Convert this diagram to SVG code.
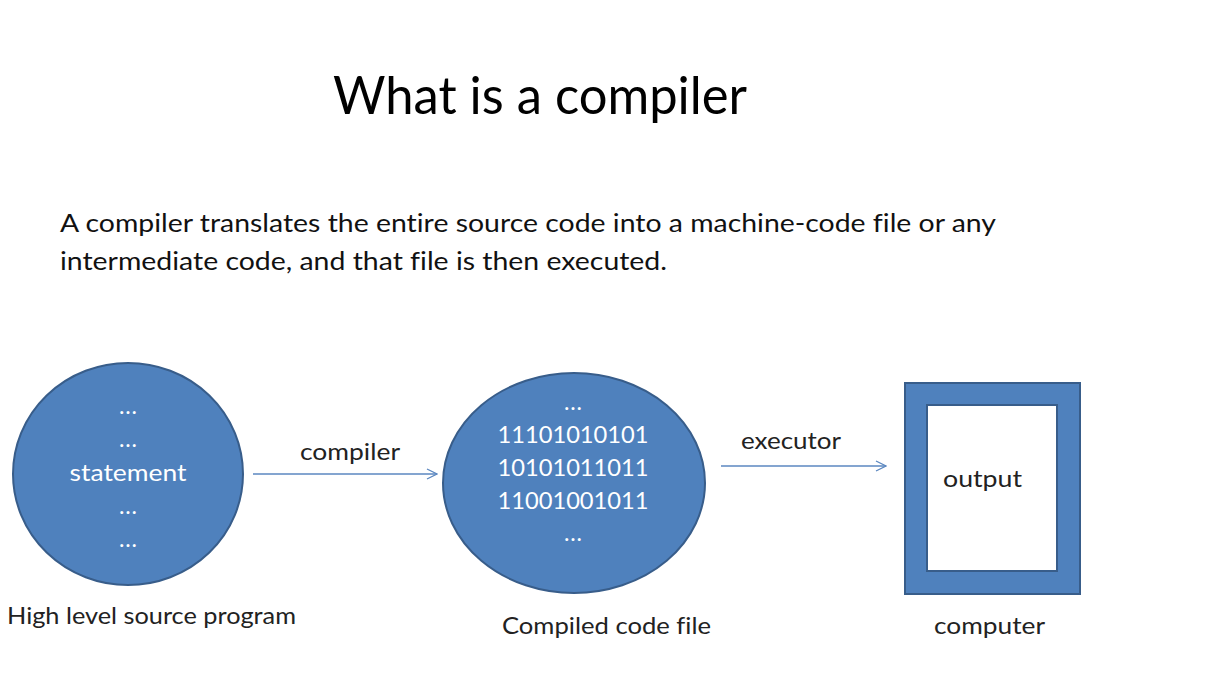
<svg xmlns="http://www.w3.org/2000/svg" width="1205" height="677" viewBox="0 0 1205 677">
  <defs>
    <style>
      text { font-family: Lato, "Open Sans", "Liberation Sans", sans-serif; font-variant-ligatures: none; font-feature-settings: "liga" 0, "clig" 0; }
      .title { font-size: 53px; fill: #000; }
      .body { font-size: 25px; fill: #111; }
      .label { font-size: 23px; fill: #222; }
      .inner { font-size: 23px; fill: #fff; text-anchor: middle; }
      .dots { font-size: 23px; fill: #fff; }
      .shape { fill: #4F81BD; stroke: #385D8A; stroke-width: 2; }
      .conn { stroke: #5B87C0; stroke-width: 1.3; fill: none; }
    </style>
    <marker id="arrow" viewBox="0 0 12 12" refX="11" refY="6" markerWidth="12" markerHeight="12" markerUnits="userSpaceOnUse" orient="auto">
      <path d="M1,1 L11,6 L1,11" fill="none" stroke="#5B87C0" stroke-width="1.3"/>
    </marker>
  </defs>

  <rect width="1205" height="677" fill="#fff"/>

  <text class="title" x="333" y="114" textLength="414" lengthAdjust="spacingAndGlyphs">What is a compiler</text>

  <text class="body" x="60" y="232" textLength="936" lengthAdjust="spacingAndGlyphs">A compiler translates the entire source code into a machine-code file or any</text>
  <text class="body" x="60" y="270" textLength="607" lengthAdjust="spacingAndGlyphs">intermediate code, and that file is then executed.</text>

  <g id="source">
    <ellipse class="shape" cx="128" cy="474" rx="115" ry="111"/>
    <text class="dots" x="119" y="414" textLength="18" lengthAdjust="spacing">...</text>
    <text class="dots" x="119" y="447" textLength="18" lengthAdjust="spacing">...</text>
    <text class="inner" x="128" y="481" textLength="117" lengthAdjust="spacingAndGlyphs">statement</text>
    <text class="dots" x="119" y="514" textLength="18" lengthAdjust="spacing">...</text>
    <text class="dots" x="119" y="547" textLength="18" lengthAdjust="spacing">...</text>
    <text class="label" x="7" y="624" textLength="289" lengthAdjust="spacingAndGlyphs">High level source program</text>
  </g>

  <g id="compiled">
    <ellipse class="shape" cx="574" cy="483" rx="131" ry="110"/>
    <text class="dots" x="564" y="410" textLength="18" lengthAdjust="spacing">...</text>
    <text class="inner" x="573" y="443" textLength="151" lengthAdjust="spacingAndGlyphs">11101010101</text>
    <text class="inner" x="573" y="476" textLength="151" lengthAdjust="spacingAndGlyphs">10101011011</text>
    <text class="inner" x="573" y="509" textLength="151" lengthAdjust="spacingAndGlyphs">11001001011</text>
    <text class="dots" x="564" y="541" textLength="18" lengthAdjust="spacing">...</text>
    <text class="label" x="502" y="634" textLength="209" lengthAdjust="spacingAndGlyphs">Compiled code file</text>
  </g>

  <g id="computer">
    <rect class="shape" x="905" y="383" width="175" height="211"/>
    <rect x="927" y="405" width="130" height="166" fill="#fff" stroke="#385D8A" stroke-width="2"/>
    <text class="label" x="943" y="487" textLength="79" lengthAdjust="spacingAndGlyphs">output</text>
    <text class="label" x="934" y="634" textLength="111" lengthAdjust="spacingAndGlyphs">computer</text>
  </g>

  <g id="connectors">
    <line class="conn" x1="253" y1="474" x2="437" y2="474" marker-end="url(#arrow)"/>
    <text class="label" x="300" y="460" textLength="100" lengthAdjust="spacingAndGlyphs">compiler</text>
    <line class="conn" x1="721" y1="466" x2="886" y2="466" marker-end="url(#arrow)"/>
    <text class="label" x="741" y="449" textLength="100" lengthAdjust="spacingAndGlyphs">executor</text>
  </g>
</svg>
